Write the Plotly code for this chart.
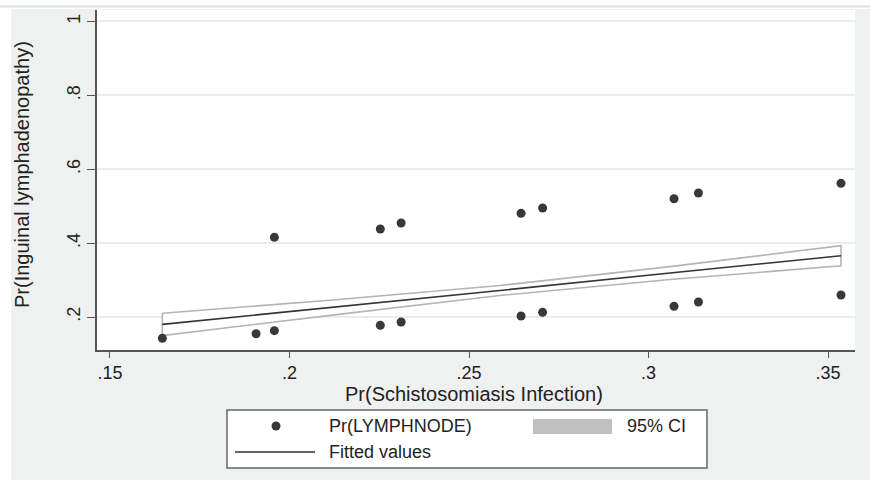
import plotly.graph_objects as go

# ---- data ----
x_high = [0.1958, 0.2253, 0.2311, 0.2645, 0.2705, 0.3071, 0.3139, 0.3536]
y_high = [0.4157, 0.4382, 0.4544, 0.4806, 0.4950, 0.5200, 0.5356, 0.5618]
x_low = [0.1646, 0.1907, 0.1958, 0.2253, 0.2311, 0.2645, 0.2705, 0.3071, 0.3139, 0.3536]
y_low = [0.1424, 0.1548, 0.1630, 0.1775, 0.1865, 0.2027, 0.2127, 0.2290, 0.2406, 0.2595]

x_fit = [0.1646, 0.2113, 0.2586, 0.3060, 0.3536]
y_fit = [0.1802, 0.2250, 0.2718, 0.3192, 0.3659]
ci_upper = [0.2102, 0.2455, 0.2853, 0.3365, 0.3930]
ci_lower = [0.1500, 0.2045, 0.2583, 0.3015, 0.3388]

x_ticks = [0.15, 0.20, 0.25, 0.30, 0.35]
x_ticktext = [".15", ".2", ".25", ".3", ".35"]
y_ticks = [0.2, 0.4, 0.6, 0.8, 1.0]
y_ticktext = [".2", ".4", ".6", ".8", "1"]

x_title = "Pr(Schistosomiasis Infection)"
y_title = "Pr(Inguinal lymphadenopathy)"

FONT = "Liberation Sans, Arial, sans-serif"
DARK = "#333333"
TXT = "#222222"
W, H = 870, 480
ML, MR, MT, MB = 97, 15, 10, 130
PW, PH = W - ML - MR, H - MT - MB


def px(x):
    return (x - ML) / PW


def py(y):
    return (H - MB - y) / PH


fig = go.Figure()

# CI band (closed polygon)
fig.add_trace(go.Scatter(
    x=x_fit + x_fit[::-1] + [x_fit[0]],
    y=ci_upper + ci_lower[::-1] + [ci_upper[0]],
    mode="lines", fill="toself", fillcolor="white",
    line=dict(color="#b4b4b4", width=1.6),
    showlegend=False, hoverinfo="skip"))

fig.add_trace(go.Scatter(
    x=x_fit, y=y_fit, mode="lines",
    line=dict(color=DARK, width=1.6), showlegend=False))

fig.add_trace(go.Scatter(
    x=x_high + x_low, y=y_high + y_low, mode="markers",
    marker=dict(color="#383838", size=9), showlegend=False))

fig.update_xaxes(
    range=[0.1464, 0.3575], tickvals=x_ticks, ticktext=x_ticktext,
    showgrid=False, zeroline=False, showline=True, linecolor="#555555", linewidth=1.5,
    ticks="outside", ticklen=6, tickwidth=1.3, tickcolor="#555555",
    tickfont=dict(family=FONT, size=18, color=TXT))

fig.update_yaxes(
    range=[0.1107, 1.0311], tickvals=y_ticks, ticktext=y_ticktext, tickangle=-90,
    showgrid=True, gridcolor="#ececec", gridwidth=1.5,
    zeroline=False, showline=True, linecolor="#555555", linewidth=1.5,
    ticks="outside", ticklen=8, tickwidth=1.3, tickcolor="#555555",
    tickfont=dict(family=FONT, size=18, color=TXT))

shapes = [
    # white top strip and left strip outside the gray panel
    dict(type="rect", xref="paper", yref="paper", x0=px(0), x1=px(W), y0=py(9), y1=py(0),
         fillcolor="white", line=dict(width=0), layer="above"),
    dict(type="rect", xref="paper", yref="paper", x0=px(0), x1=px(11), y0=py(H), y1=py(0),
         fillcolor="white", line=dict(width=0), layer="above"),
    dict(type="line", xref="paper", yref="paper", x0=px(0), x1=px(W), y0=py(6.5), y1=py(6.5),
         line=dict(color="#dedede", width=2), layer="above"),
    # legend box
    dict(type="rect", xref="paper", yref="paper", x0=px(227), x1=px(707), y0=py(468), y1=py(410),
         fillcolor="white", line=dict(color="#666666", width=1.5), layer="above"),
    # legend: CI swatch
    dict(type="rect", xref="paper", yref="paper", x0=px(533), x1=px(612), y0=py(434), y1=py(419),
         fillcolor="#c0c0c0", line=dict(width=0), layer="above"),
    # legend: fitted line sample
    dict(type="line", xref="paper", yref="paper", x0=px(235), x1=px(315), y0=py(452), y1=py(452),
         line=dict(color=DARK, width=1.6), layer="above"),
    # legend: marker sample
    dict(type="circle", xref="paper", yref="paper", x0=px(271.5), x1=px(280.5), y0=py(430.5), y1=py(421.5),
         fillcolor="#383838", line=dict(width=0), layer="above"),
]

ann = [
    dict(text="Pr(LYMPHNODE)", x=px(327), y=py(426), xanchor="left", size=18),
    dict(text="95% CI", x=px(625), y=py(426), xanchor="left", size=18),
    dict(text="Fitted values", x=px(327), y=py(452), xanchor="left", size=18),
    dict(text=x_title, x=px(474), y=py(394), xanchor="center", size=20),
    dict(text=y_title, x=px(22), y=py(175), xanchor="center", size=20, textangle=-90),
]
annotations = []
for a in ann:
    size = a.pop("size")
    annotations.append(dict(xref="paper", yref="paper", yanchor="middle", showarrow=False,
                            font=dict(family=FONT, size=size, color=TXT), **a))

fig.update_layout(
    width=W, height=H, autosize=False,
    margin=dict(l=ML, r=MR, t=MT, b=MB, pad=0),
    paper_bgcolor="#eff0f0", plot_bgcolor="white",
    shapes=shapes, annotations=annotations, showlegend=False,
    font=dict(family=FONT))

fig.write_html("out.html")
